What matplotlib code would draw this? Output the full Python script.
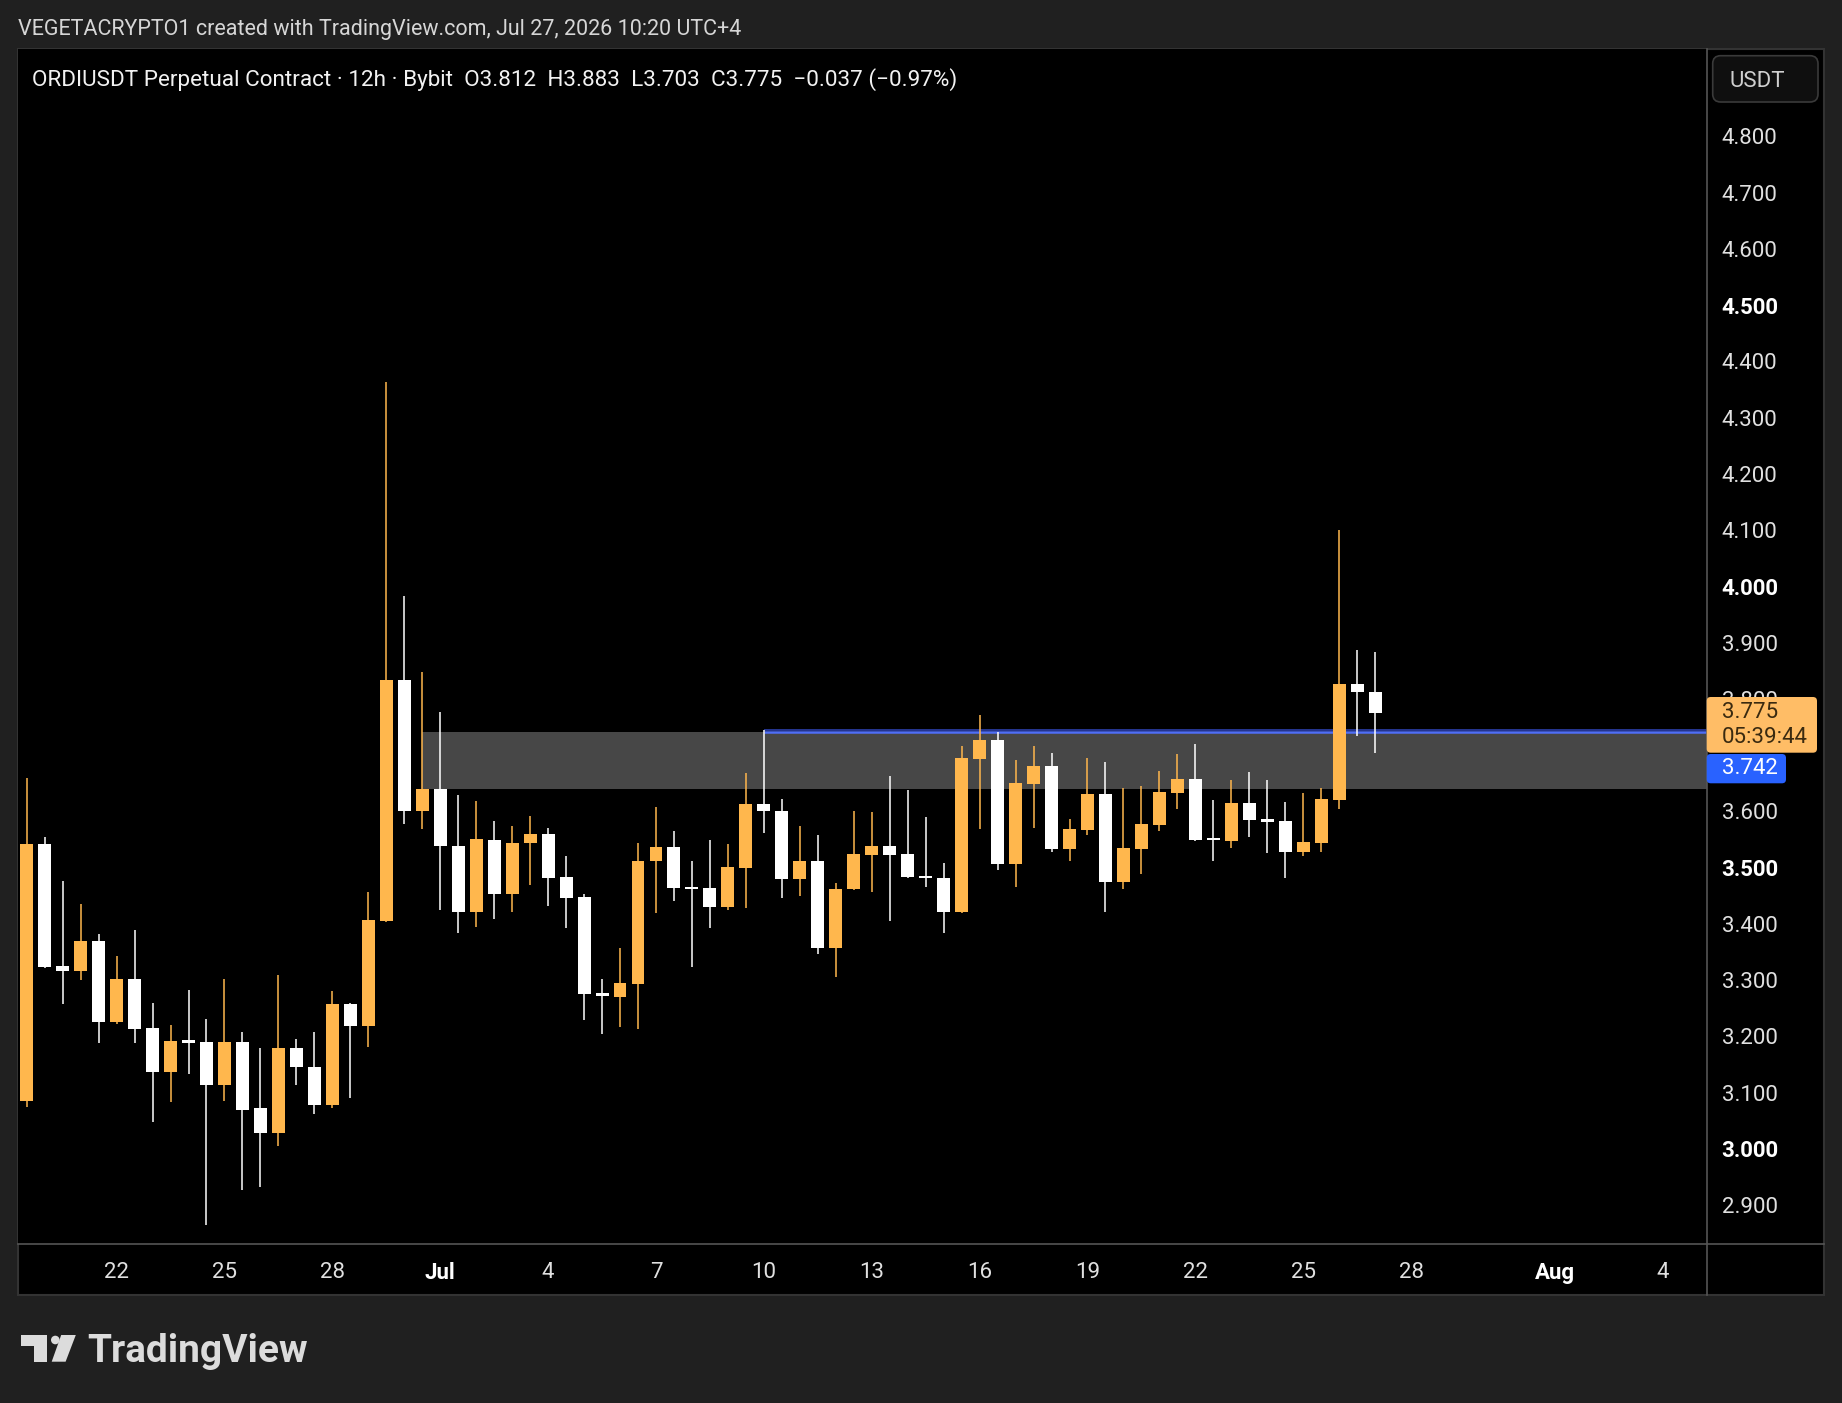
import numpy as np
import pandas as pd
import matplotlib
matplotlib.use('Agg')
import matplotlib.pyplot as plt
import matplotlib.dates as mdates
from matplotlib.patches import Rectangle, FancyBboxPatch, Polygon, Circle
from matplotlib.lines import Line2D
from matplotlib.transforms import IdentityTransform

plt.rcParams['font.family'] = ['Roboto', 'DejaVu Sans']

# ORDIUSDT 12h candles, first bar Jun 19 12:00
first_bar = '2026-06-19 12:00'
opens = [3.086, 3.542, 3.325, 3.317, 3.370, 3.226, 3.302, 3.215, 3.137, 3.193,
         3.190, 3.114, 3.190, 3.072, 3.028, 3.180, 3.145, 3.079, 3.258, 3.219,
         3.406, 3.834, 3.601, 3.640, 3.538, 3.422, 3.550, 3.454, 3.543, 3.560,
         3.483, 3.448, 3.278, 3.271, 3.294, 3.511, 3.537, 3.465, 3.464, 3.431,
         3.500, 3.613, 3.601, 3.480, 3.511, 3.358, 3.462, 3.523, 3.539, 3.524,
         3.485, 3.482, 3.422, 3.693, 3.727, 3.507, 3.648, 3.681, 3.533, 3.567,
         3.631, 3.475, 3.533, 3.576, 3.633, 3.658, 3.551, 3.547, 3.615, 3.585,
         3.583, 3.527, 3.544, 3.620, 3.827, 3.812]
highs = [3.659, 3.554, 3.476, 3.435, 3.382, 3.343, 3.389, 3.259, 3.220, 3.283,
         3.231, 3.302, 3.208, 3.180, 3.310, 3.196, 3.208, 3.281, 3.260, 3.456,
         4.364, 3.983, 3.847, 3.776, 3.630, 3.618, 3.583, 3.574, 3.592, 3.570,
         3.521, 3.453, 3.303, 3.357, 3.543, 3.608, 3.565, 3.511, 3.549, 3.542,
         3.669, 3.745, 3.622, 3.574, 3.558, 3.473, 3.601, 3.599, 3.663, 3.638,
         3.590, 3.508, 3.716, 3.771, 3.741, 3.691, 3.717, 3.703, 3.587, 3.695,
         3.688, 3.642, 3.645, 3.671, 3.702, 3.720, 3.620, 3.656, 3.670, 3.656,
         3.616, 3.632, 3.642, 4.100, 3.887, 3.883]
lows = [3.074, 3.322, 3.258, 3.300, 3.189, 3.222, 3.189, 3.048, 3.084, 3.133,
        2.865, 3.085, 2.927, 2.933, 3.005, 3.113, 3.063, 3.072, 3.090, 3.182,
        3.404, 3.577, 3.568, 3.425, 3.384, 3.395, 3.408, 3.422, 3.469, 3.432,
        3.393, 3.229, 3.204, 3.217, 3.214, 3.420, 3.441, 3.323, 3.393, 3.424,
        3.429, 3.561, 3.447, 3.450, 3.346, 3.306, 3.460, 3.457, 3.406, 3.482,
        3.466, 3.384, 3.419, 3.569, 3.496, 3.466, 3.571, 3.528, 3.512, 3.558,
        3.422, 3.463, 3.489, 3.566, 3.605, 3.547, 3.511, 3.535, 3.555, 3.526,
        3.482, 3.520, 3.527, 3.605, 3.734, 3.703]
closes = [3.542, 3.324, 3.317, 3.370, 3.226, 3.302, 3.214, 3.137, 3.192, 3.189,
          3.114, 3.190, 3.070, 3.028, 3.180, 3.145, 3.079, 3.258, 3.219, 3.407,
          3.834, 3.601, 3.640, 3.538, 3.422, 3.551, 3.454, 3.543, 3.560, 3.482,
          3.447, 3.276, 3.272, 3.295, 3.512, 3.537, 3.464, 3.462, 3.431, 3.501,
          3.613, 3.600, 3.480, 3.511, 3.358, 3.463, 3.524, 3.539, 3.523, 3.484,
          3.481, 3.422, 3.695, 3.727, 3.507, 3.651, 3.681, 3.533, 3.569, 3.631,
          3.475, 3.535, 3.578, 3.634, 3.658, 3.549, 3.549, 3.615, 3.584, 3.582,
          3.527, 3.546, 3.622, 3.827, 3.812, 3.775]

# drawings
zone_low, zone_high = 3.640, 3.741
zone_start_bar = 22
level = 3.742
level_start_bar = 41
last_price = 3.775
countdown = '05:39:44'

price_ticks = [2.9, 3.0, 3.1, 3.2, 3.3, 3.4, 3.5, 3.6, 3.7, 3.8,
               3.9, 4.0, 4.1, 4.2, 4.3, 4.4, 4.5, 4.6, 4.7, 4.8]
bold_prices = [3.0, 3.5, 4.0, 4.5]
hidden_prices = [3.7]  # sits under the 3.742 label
tick_dates = ['2026-06-22', '2026-06-25', '2026-06-28', '2026-07-01', '2026-07-04',
              '2026-07-07', '2026-07-10', '2026-07-13', '2026-07-16', '2026-07-19',
              '2026-07-22', '2026-07-25', '2026-07-28', '2026-08-01', '2026-08-04']
tick_labels = ['22', '25', '28', 'Jul', '4', '7', '10', '13', '16', '19',
               '22', '25', '28', 'Aug', '4']

header = 'VEGETACRYPTO1 created with TradingView.com, Jul 27, 2026 10:20 UTC+4'
legend = ('ORDIUSDT Perpetual Contract · 12h · Bybit  O3.812  H3.883  L3.703  '
          'C3.775  \u22120.037 (\u22120.97%)')

UP = '#ffb74d'
DOWN = '#ffffff'

W, H = 1842, 1403
fig = plt.figure(figsize=(W / 100, H / 100), dpi=100)
fig.patch.set_facecolor('#202020')


def fx(x):
    return x / W


def fy(y):
    return 1 - y / H


# chart pane
fig.add_artist(Rectangle((fx(18), fy(1294.7)), (1824 - 18) / W, (1294.7 - 49) / H,
                         transform=fig.transFigure, facecolor='black',
                         edgecolor='#333333', lw=1.5, zorder=-1))

ax = fig.add_axes([fx(18), fy(1244.3), (1706.7 - 18) / W, (1244.3 - 49.3) / H])
ax.set_facecolor('black')
for s in ax.spines.values():
    s.set_visible(False)

t = mdates.date2num(pd.date_range(first_bar, periods=len(opens), freq='12h'))
o = np.array(opens)
c = np.array(closes)
colors = np.where(c >= o, UP, DOWN)
bottoms = np.minimum(o, c)
heights = np.maximum(np.abs(c - o), 0.004)

xmin = t[0] - 0.242
xmax = t[0] + 46.72

ax.add_patch(Rectangle((t[zone_start_bar], zone_low), xmax - t[zone_start_bar] + 1,
                       zone_high - zone_low, facecolor='#474747', edgecolor='none',
                       zorder=1))
ax.hlines(level + 0.003, t[level_start_bar], xmax + 1, color='#2f45b8', lw=1.1, zorder=2)
ax.hlines(level - 0.0005, t[level_start_bar], xmax + 1, color='#4f6ef7', lw=1.8, zorder=2)

ax.vlines(t, lows, highs, colors=colors, lw=1.1, zorder=3)
ax.bar(t, heights, width=0.36, bottom=bottoms, color=colors, linewidth=0, zorder=4)

ax.set_xlim(xmin, xmax)
ax.set_ylim(2.8306, 4.9546)

ax.yaxis.tick_right()
ax.set_yticks(price_ticks)
ax.set_yticklabels([f'{p:.3f}' for p in price_ticks])
ax.tick_params(axis='y', length=0, pad=10.8, labelsize=16, labelcolor='#e0e0e0')
for lab, p in zip(ax.get_yticklabels(), price_ticks):
    if p in bold_prices:
        lab.set_fontweight('bold')
        lab.set_color('#ffffff')
    if p in hidden_prices:
        lab.set_visible(False)

ax.set_xticks(mdates.date2num(pd.to_datetime(tick_dates)))
ax.set_xticklabels(tick_labels)
ax.tick_params(axis='x', length=0, pad=12.5, labelsize=16, labelcolor='#e0e0e0')
for lab in ax.get_xticklabels():
    if lab.get_text() in ('Jul', 'Aug'):
        lab.set_fontweight('bold')
        lab.set_color('#ffffff')

# separators
fig.add_artist(Line2D([fx(1706.7), fx(1706.7)], [fy(49), fy(1294.7)],
                      transform=fig.transFigure, color='#555555', lw=1.2, zorder=3))
fig.add_artist(Line2D([fx(18), fx(1824)], [fy(1244.3), fy(1244.3)],
                      transform=fig.transFigure, color='#555555', lw=1.2, zorder=3))

idt = IdentityTransform()


def box(x0, y0, x1, y1, fc, ec='none', r=4, lw=0):
    fig.add_artist(FancyBboxPatch((x0, H - y1), x1 - x0, y1 - y0,
                                  boxstyle=f'round,pad=0,rounding_size={r}',
                                  transform=idt, facecolor=fc, edgecolor=ec,
                                  lw=lw, zorder=6))


# currency button
box(1712.7, 55.7, 1818, 102, '#0f0f0f', ec='#3a3a3a', r=8, lw=1.2)
fig.text(fx(1729), fy(81.5), 'USDT', fontsize=16, color='#cfcfcf', va='center',
         ha='left', zorder=7)

# last price and level labels
box(1706.7, 697, 1817, 752.7, '#ffbd66', r=4)
fig.text(fx(1722), fy(712), f'{last_price:.3f}', fontsize=16, color='#3a2a10',
         va='center', ha='left', zorder=7)
fig.text(fx(1722), fy(737.7), countdown, fontsize=16, color='#3a2a10',
         va='center', ha='left', zorder=7)
box(1706.7, 754, 1786, 783.3, '#2962ff', r=4)
fig.text(fx(1722), fy(768.7), f'{level:.3f}', fontsize=16, color='#ffffff',
         va='center', ha='left', zorder=7)

# header and legend
fig.text(fx(17.6), fy(29.5), header, fontsize=15.5, color='#d6d6d6', va='center', ha='left')
fig.text(fx(31.7), fy(80), legend, fontsize=16.2, color='#f2f2f2', va='center',
         ha='left', zorder=7)

# TradingView logo
logo_c = '#dcdcdc'
fig.add_artist(Rectangle((21, H - 1346), 25.7, 11, transform=idt, fc=logo_c, ec='none'))
fig.add_artist(Rectangle((34.4, H - 1361.7), 12.3, 26.7, transform=idt, fc=logo_c, ec='none'))
fig.add_artist(Circle((55.3, H - 1340), 4.3, transform=idt, fc=logo_c, ec='none'))
fig.add_artist(Polygon([(61.2, H - 1335), (75.8, H - 1335), (65.6, H - 1361.7),
                        (51.7, H - 1361.7)], closed=True, transform=idt,
                       fc=logo_c, ec='none'))
fig.text(fx(87), fy(1361.7), 'TradingView', fontsize=28, fontweight='bold',
         color=logo_c, va='baseline', ha='left')

fig.savefig('out.png', dpi=100, facecolor=fig.get_facecolor())
